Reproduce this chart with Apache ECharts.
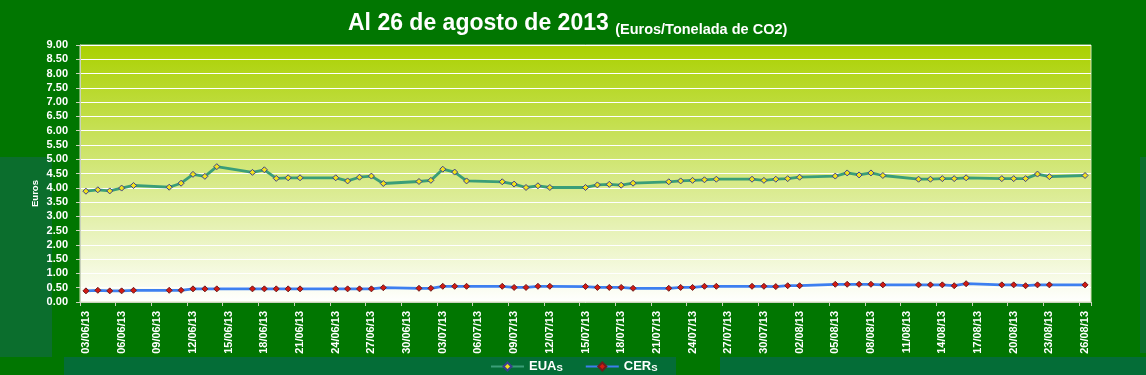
<!DOCTYPE html>
<html>
<head>
<meta charset="utf-8">
<script src="https://cdn.jsdelivr.net/npm/echarts@6/dist/echarts.min.js"></script>
<style>
html,body{margin:0;padding:0;background:#017601;}
#chart{width:1146px;height:375px;}
</style>
</head>
<body>
<div id="chart"></div>
<script>
// ---- data ----
const titleMain = 'Al 26 de agosto de 2013';
const titleSub = '(Euros/Tonelada de CO2)';
const yAxisName = 'Euros';
const seriesNames = ['EUAs', 'CERs'];
const firstDay = '2013-06-03';
const lastDay = '2013-08-26';

const tradingDays = [
  '03/06/13','04/06/13','05/06/13','06/06/13','07/06/13',
  '10/06/13','11/06/13','12/06/13','13/06/13','14/06/13',
  '17/06/13','18/06/13','19/06/13','20/06/13','21/06/13',
  '24/06/13','25/06/13','26/06/13','27/06/13','28/06/13',
  '01/07/13','02/07/13','03/07/13','04/07/13','05/07/13',
  '08/07/13','09/07/13','10/07/13','11/07/13','12/07/13',
  '15/07/13','16/07/13','17/07/13','18/07/13','19/07/13',
  '22/07/13','23/07/13','24/07/13','25/07/13','26/07/13',
  '29/07/13','30/07/13','31/07/13','01/08/13','02/08/13',
  '05/08/13','06/08/13','07/08/13','08/08/13','09/08/13',
  '12/08/13','13/08/13','14/08/13','15/08/13','16/08/13',
  '19/08/13','20/08/13','21/08/13','22/08/13','23/08/13',
  '26/08/13'
];
const euaValues = [
  3.88, 3.93, 3.89, 3.99, 4.08,
  4.02, 4.16, 4.47, 4.40, 4.74,
  4.54, 4.63, 4.33, 4.35, 4.35,
  4.35, 4.24, 4.37, 4.41, 4.15,
  4.22, 4.26, 4.65, 4.55, 4.24,
  4.21, 4.13, 4.01, 4.07, 4.01,
  4.01, 4.10, 4.12, 4.09, 4.16,
  4.21, 4.24, 4.26, 4.28, 4.30,
  4.30, 4.26, 4.30, 4.32, 4.37,
  4.41, 4.52, 4.45, 4.52, 4.43,
  4.30, 4.30, 4.32, 4.32, 4.35,
  4.32, 4.32, 4.32, 4.48, 4.39,
  4.43
];
const cerValues = [
  0.39, 0.41, 0.39, 0.39, 0.41,
  0.41, 0.41, 0.46, 0.46, 0.46,
  0.46, 0.46, 0.46, 0.46, 0.46,
  0.46, 0.46, 0.46, 0.46, 0.50,
  0.48, 0.48, 0.55, 0.55, 0.55,
  0.55, 0.51, 0.51, 0.55, 0.55,
  0.54, 0.51, 0.51, 0.51, 0.48,
  0.48, 0.51, 0.51, 0.55, 0.55,
  0.55, 0.55, 0.54, 0.57, 0.57,
  0.62, 0.62, 0.62, 0.62, 0.60,
  0.60, 0.60, 0.60, 0.57, 0.64,
  0.60, 0.60, 0.57, 0.60, 0.60,
  0.60
];
const yMin = 0, yMax = 9, yStep = 0.5;

// ---- build calendar-day category axis ----
function fmt(d){
  const dd = String(d.getUTCDate()).padStart(2,'0');
  const mm = String(d.getUTCMonth()+1).padStart(2,'0');
  const yy = String(d.getUTCFullYear()).slice(2);
  return dd + '/' + mm + '/' + yy;
}
const calendarDays = [];
{
  const s = new Date(firstDay + 'T00:00:00Z'), e = new Date(lastDay + 'T00:00:00Z');
  for (let t = s.getTime(); t <= e.getTime(); t += 86400000) calendarDays.push(fmt(new Date(t)));
}
function align(values){
  const m = {};
  tradingDays.forEach((d,i)=>{ m[d] = values[i]; });
  return calendarDays.map(d => (d in m) ? m[d] : null);
}

const sans = "'Liberation Sans',Arial,sans-serif";
const axisGrey = '#c9d2bd';

const chart = echarts.init(document.getElementById('chart'), null, {renderer:'canvas'});
chart.setOption({
  backgroundColor: '#017601',
  animation: false,
  title: {
    text: '{a|' + titleMain + ' }{b|' + titleSub + '}',
    left: 348, top: 11, padding: 0,
    textStyle: {
      rich: {
        a: {fontFamily: sans, fontWeight:'bold', fontSize: 23, color:'#fff', lineHeight: 26},
        b: {fontFamily: sans, fontWeight:'bold', fontSize: 14.5, color:'#fff', lineHeight: 24, verticalAlign:'bottom'}
      }
    }
  },
  graphic: [
    {type:'rect', z:-10, shape:{x:0, y:157, width:52, height:200}, style:{fill:'#0b6e2d'}, silent:true},
    {type:'rect', z:-10, shape:{x:64, y:357, width:1082, height:18}, style:{fill:'#046d37'}, silent:true},
    {type:'rect', z:-9, shape:{x:676, y:357, width:44, height:18}, style:{fill:'#017601'}, silent:true},
    {type:'rect', z:-10, shape:{x:1140, y:157, width:6, height:196}, style:{fill:'#0b6e2d'}, silent:true},
    {type:'text', z:10, x:35, y:193.5, rotation: Math.PI/2,
      style:{text: yAxisName, fill:'#fff', font: 'bold 9.5px ' + sans, align:'center', verticalAlign:'middle'}}
  ],
  legend: {
    left: 490, top: 360, itemWidth: 33, itemHeight: 10, itemGap: 22, padding: 0,
    data: seriesNames,
    formatter: n => '{a|' + n.slice(0, -1) + '}{b|' + n.slice(-1).toUpperCase() + '}',
    textStyle: {
      color:'#fff',
      rich: {
        a: {fontFamily: sans, fontWeight:'bold', fontSize: 13, color:'#fff', lineHeight: 14},
        b: {fontFamily: sans, fontWeight:'bold', fontSize: 9.5, color:'#fff', lineHeight: 11, verticalAlign:'bottom'}
      }
    }
  },
  grid: {
    left: 80, right: 55, top: 45, bottom: 73, show: true,
    borderColor: '#d6e3b6', borderWidth: 1,
    backgroundColor: new echarts.graphic.LinearGradient(0,0,0,1,[
      {offset:0, color:'#aad100'},
      {offset:1, color:'#ffffff'}
    ])
  },
  xAxis: {
    type: 'category',
    data: calendarDays,
    boundaryGap: true,
    axisLine: {show:true, lineStyle:{color: axisGrey, width: 1}},
    axisTick: {show:true, interval: 2, length: 4, lineStyle:{color: axisGrey}},
    axisLabel: {interval: 2, rotate: 90, margin: 9, color:'#fff', fontWeight:'bold', fontSize: 11, fontFamily: sans},
    splitLine: {show:false}
  },
  yAxis: {
    type: 'value', min: yMin, max: yMax, interval: yStep,
    axisLine: {show:true, lineStyle:{color: axisGrey, width: 1}},
    axisTick: {show:true, length: 4, lineStyle:{color: axisGrey}},
    axisLabel: {margin: 12, color:'#fff', fontWeight:'bold', fontSize: 11, fontFamily: sans,
      formatter: v => v.toFixed(2)},
    splitLine: {show:true, lineStyle:{color:'#ffffff', width: 1.2}}
  },
  series: [
    {
      name: seriesNames[0], type:'line', data: align(euaValues), connectNulls: true,
      symbol:'diamond', symbolSize: 6, showSymbol: true, showAllSymbol: true,
      lineStyle: {color:'#3a9e78', width: 2.8},
      itemStyle: {color:'#f2e21c', borderColor:'#3b3f8f', borderWidth: 1},
      z: 3
    },
    {
      name: seriesNames[1], type:'line', data: align(cerValues), connectNulls: true,
      symbol:'diamond', symbolSize: 6, showSymbol: true, showAllSymbol: true,
      lineStyle: {color:'#3d7ff0', width: 2.8},
      itemStyle: {color:'#d41a12', borderColor:'#6e1c1c', borderWidth: 1},
      z: 3
    }
  ]
});
</script>
</body>
</html>
